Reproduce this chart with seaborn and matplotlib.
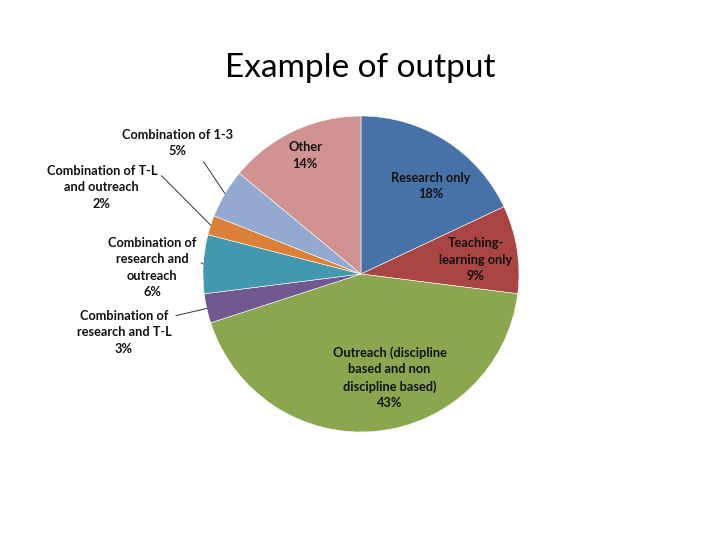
import numpy as np
import matplotlib
matplotlib.use("Agg")
import matplotlib.pyplot as plt
import seaborn as sns

# data (clockwise from 12 o'clock)
labels = [
    "Research only",
    "Teaching-\nlearning only",
    "Outreach (discipline\nbased and non\ndiscipline based)",
    "Combination of\nresearch and T-L",
    "Combination of\nresearch and\noutreach",
    "Combination of T-L\nand outreach",
    "Combination of 1-3",
    "Other",
]
shares = [18, 9, 43, 3, 6, 2, 5, 14]
colors = ["#4672A8", "#AA4543", "#8AA74F", "#71588F",
          "#4298AF", "#DA8137", "#94A9CF", "#D09392"]

sns.set_theme(style="white")
plt.rcParams["font.family"] = ["Lato", "DejaVu Sans"]

fig = plt.figure(figsize=(7.2, 5.4), dpi=100)
ax = fig.add_axes([0.2819, 0.2, 0.4389, 0.5852])

wedges, _ = ax.pie(shares, colors=sns.color_palette(colors), startangle=90,
                   counterclock=False, radius=1,
                   wedgeprops=dict(edgecolor="white", linewidth=0.4))
ax.set_xlim(-1, 1)
ax.set_ylim(-1, 1)
ax.set_aspect("equal")
ax.axis("off")

# inside labels: (radius factor, angle offset)
inside = {0: (0.71, -6), 1: (0.73, -2), 2: (0.68, 10), 7: (0.83, 0)}
# outside labels: text position (data units), relpos of leader start
outside = {
    3: ((-1.5, -0.37), (1.0, 0.85)),
    4: ((-1.32, 0.04), (1.0, 0.62)),
    5: ((-1.64, 0.55), (1.0, 0.85)),
    6: ((-1.16, 0.83), (0.67, 0.2)),
}
tk = dict(fontsize=9.2, fontweight="bold", color="#111111", ha="center",
          va="center", linespacing=1.45)

for i, w in enumerate(wedges):
    mid = np.deg2rad((w.theta1 + w.theta2) / 2)
    txt = f"{labels[i]}\n{shares[i]}%"
    if i in inside:
        r, off = inside[i]
        a = mid + np.deg2rad(off)
        ax.text(r * np.cos(a), r * np.sin(a), txt, **tk)
    else:
        pos, rel = outside[i]
        ax.annotate(txt, xy=(np.cos(mid), np.sin(mid)), xytext=pos,
                    arrowprops=dict(arrowstyle="-", color="#333333", lw=0.7,
                                    relpos=rel, shrinkA=1, shrinkB=0),
                    annotation_clip=False, **tk)

fig.text(0.5, 0.874, "Example of output", ha="center", va="center",
         fontsize=24, color="black")

fig.savefig("out.png", dpi=100)
